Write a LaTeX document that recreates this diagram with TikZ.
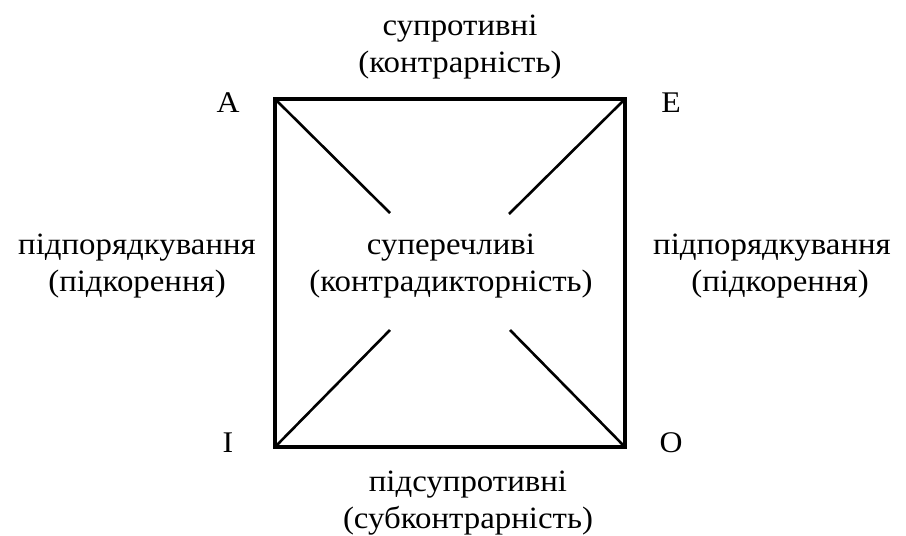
\documentclass[tikz,border=0pt]{standalone}
\usepackage{fontspec}
\setmainfont{Liberation Serif}[FakeStretch=1.06]
\usetikzlibrary{positioning}

\begin{document}
\begin{tikzpicture}[x=1pt, y=-1pt,
	lbl/.style={align=center, font=\fontsize{31}{37}\selectfont, inner sep=0pt},
	vertex/.style={font=\fontsize{30}{37}\selectfont, inner sep=0pt},
	side/.style={line width=3.5pt},
	diag/.style={line width=2.6pt}
]
	\useasboundingbox (0,0) rectangle (906,536);
	% corners of the square
	\coordinate (a) at (275,99);
	\coordinate (e) at (625,99);
	\coordinate (i) at (275,447);
	\coordinate (o) at (625,447);
	\draw[side, line join=miter] (a) -- (e) -- (o) -- (i) -- cycle;
	% inner ends of the diagonals
	\coordinate (ai) at (390,213);
	\coordinate (ei) at (509,214);
	\coordinate (ii) at (390,330);
	\coordinate (oi) at (510,330);
	\draw[diag] (a) -- (ai);
	\draw[diag] (e) -- (ei);
	\draw[diag] (i) -- (ii);
	\draw[diag] (o) -- (oi);
	% vertex letters
	\node[vertex] (la) at (228,103) {A};
	\node[vertex] (le) at (671,103) {E};
	\node[vertex] (li) at (228,443) {I};
	\node[vertex] (lo) at (671,443) {O};
	% relations
	\node[lbl] (top) at (460,47) {супротивні\\(контрарність)};
	\node[lbl] (mid) at (451,266) {суперечливі\\(контрадикторність)};
	\node[lbl] (left) at (137,266) {підпорядкування\\(підкорення)};
	\node[lbl] (right) at (772,266) {підпорядкування\\\hspace*{16pt}(підкорення)};
	\node[lbl] (bot) at (468,503) {підсупротивні\\(субконтрарність)};
\end{tikzpicture}
\end{document}
